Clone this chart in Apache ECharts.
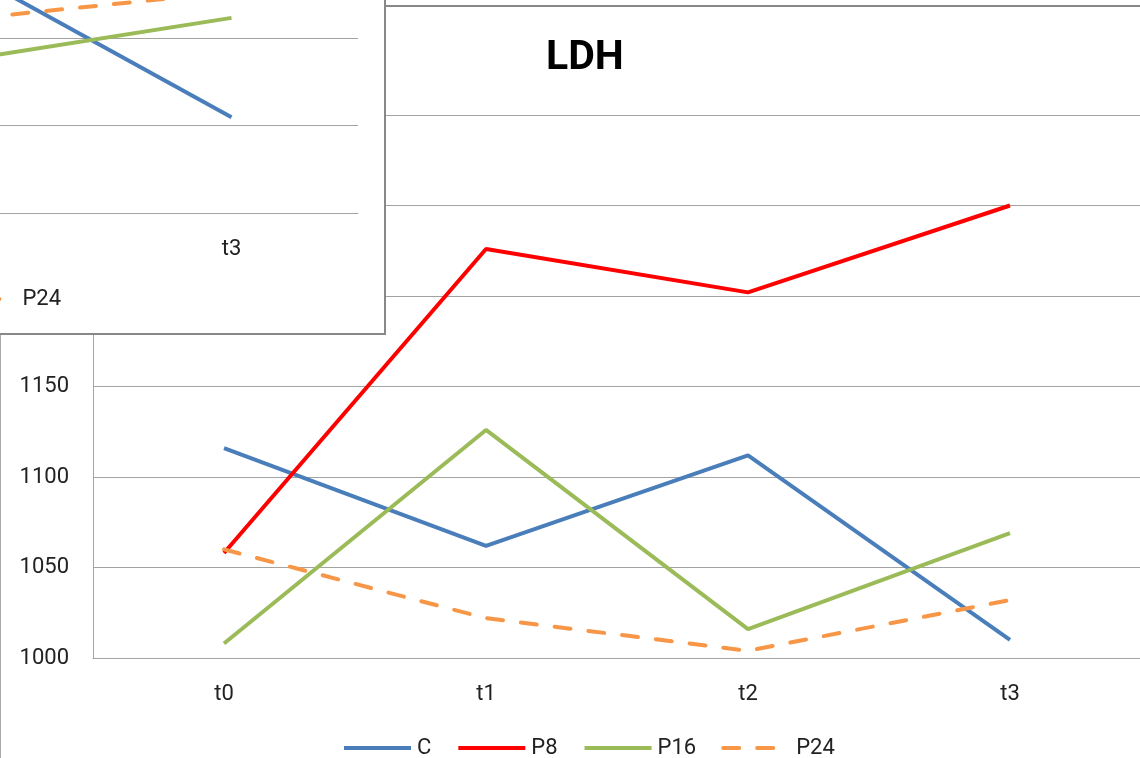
<!DOCTYPE html>
<html>
<head>
<meta charset="utf-8">
<script src="https://cdn.jsdelivr.net/npm/echarts@6/dist/echarts.min.js"></script>
<style>
    html, body { margin: 0; padding: 0; width: 1140px; height: 758px; overflow: hidden; background: #fff; }
    #frame { position: absolute; left: 0; top: 5px; width: 2000px; height: 2000px; border-left: 1px solid #aaa; border-top: 2px solid #888; }
    #main { position: absolute; left: 0; top: 0; width: 1300px; height: 900px; }
    #inset { position: absolute; left: -720px; top: -200px; width: 1106px; height: 535px; box-sizing: border-box; border: 2px solid #888; background: #fff; }
    #insetChart { width: 1102px; height: 531px; }
</style>
</head>
<body>
<div id="frame"></div>
<div id="main"></div>
<div id="inset"><div id="insetChart"></div></div>
<script>
const TIMES = ['t0', 't1', 't2', 't3'];
const SERIES_NAMES = ['C', 'P8', 'P16', 'P24'];
const COLORS = ['#4a7ebb', '#ff0000', '#9bbb59', '#f79646'];

// LDH (main chart)
const LDH_C = [1116, 1062, 1112, 1010];
const LDH_P8 = [1058, 1226, 1202, 1250];
const LDH_P16 = [1008, 1126, 1016, 1069];
const LDH_P24 = [1060, 1022, 1004, 1032];
const LDH_TICKS = { min: 1000, max: 1300, interval: 50 };

// chart lying on top, only its t2..t3 end is visible
const BACK_C = [null, null, 153.7, 121.9];
const BACK_P8 = [null, null, 168, 172];
const BACK_P16 = [null, null, 135.5, 144.6];
const BACK_P24 = [null, null, 144.6, 150.5];
const BACK_TICKS = { min: 100, max: 180, interval: 20 };

const FONT = 'Roboto, "Liberation Sans", sans-serif';
const GRID_GRAY = '#a3a3a3';

function lineSeries(name, data, i) {
    const dashed = name === 'P24';
    return {
        name, type: 'line', data, symbol: 'none', connectNulls: false,
        lineStyle: { color: COLORS[i], width: 4, type: dashed ? [16, 18] : 'solid', cap: dashed ? 'round' : 'butt' },
        itemStyle: { color: COLORS[i] },
    };
}

function buildOption(values, ticks, grid, legend) {
    return {
        animation: false,
        color: COLORS,
        grid,
        legend: {
            data: SERIES_NAMES, itemWidth: 67, itemHeight: 14, itemGap: 25, padding: 0,
            textStyle: { fontFamily: FONT, fontSize: 22, color: '#222', padding: [0, 0, 0, 1] },
            itemStyle: { opacity: 0 },
            lineStyle: { width: 4 },
            ...legend,
        },
        xAxis: {
            type: 'category', data: TIMES, boundaryGap: true,
            axisTick: { show: false },
            axisLine: { lineStyle: { color: GRID_GRAY, width: 1 } },
            axisLabel: { fontFamily: FONT, fontSize: 22, color: '#222', margin: 25 },
        },
        yAxis: {
            type: 'value', ...ticks,
            axisLine: { show: true, lineStyle: { color: GRID_GRAY, width: 1 } },
            axisTick: { show: false },
            axisLabel: { fontFamily: FONT, fontSize: 22, color: '#222', margin: 24, formatter: v => String(v) },
            splitLine: { lineStyle: { color: GRID_GRAY, width: 1 } },
        },
        series: SERIES_NAMES.map((n, i) => lineSeries(n, values[i], i)),
    };
}

const main = echarts.init(document.getElementById('main'), null, { renderer: 'canvas' });
main.setOption({
    ...buildOption([LDH_C, LDH_P8, LDH_P16, LDH_P24], LDH_TICKS,
        { left: 93, top: 115, width: 1048, height: 543 },
        { left: 342, top: 737 }),
    title: { text: 'LDH', left: 541, top: 33, textStyle: { fontFamily: FONT, fontSize: 41, fontWeight: 'bold', color: '#000' } },
});

const inset = echarts.init(document.getElementById('insetChart'), null, { renderer: 'canvas' });
inset.setOption(buildOption([BACK_C, BACK_P8, BACK_P16, BACK_P24], BACK_TICKS,
    { left: 44, top: 61, width: 1032, height: 350 },
    { right: 323, top: 486 }));
</script>
</body>
</html>
